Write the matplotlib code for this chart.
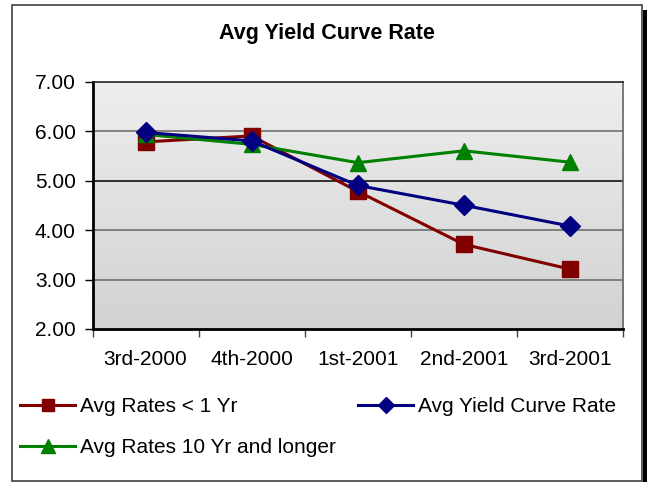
import numpy as np
import matplotlib.pyplot as plt
from matplotlib.patches import Rectangle
from matplotlib.colors import LinearSegmentedColormap

plt.rcParams['font.family'] = ['Liberation Sans', 'DejaVu Sans']

quarters = ['3rd-2000', '4th-2000', '1st-2001', '2nd-2001', '3rd-2001']
rates_short = [5.78, 5.90, 4.78, 3.71, 3.21]
rates_curve = [5.97, 5.80, 4.90, 4.50, 4.08]
rates_long = [5.93, 5.73, 5.36, 5.60, 5.37]

W, H = 647, 482
fig = plt.figure(figsize=(W / 100, H / 100), dpi=100)

# outer frame and its drop shadow
fig.patches.append(Rectangle((12 / W, 1 - 481 / H), 630 / W, 476 / H,
                             transform=fig.transFigure, fill=False,
                             edgecolor='#404040', linewidth=1.2))
fig.patches.append(Rectangle((643 / W, 0), 4 / W, 1 - 10 / H,
                             transform=fig.transFigure, facecolor='black',
                             edgecolor='none'))

ax = fig.add_axes([92.5 / W, 1 - 329 / H, (623 - 92.5) / W, (329 - 81.5) / H])

# grey gradient background of the plot area
bg = LinearSegmentedColormap.from_list('bg', ['#eeeeee', '#d2d2d2'])
grad = np.linspace(0, 1, 256).reshape(-1, 1)
ax.imshow(grad, cmap=bg, aspect='auto', extent=[-0.5, 4.5, 2, 7],
          origin='upper', zorder=0)

x = np.arange(len(quarters))
for yv in [3, 4, 5, 6]:
    ax.axhline(yv, color='#666666' if yv != 5 else 'black', lw=1.1, zorder=1)

l1, = ax.plot(x, rates_short, color='#800000', marker='s', markersize=11,
              lw=2.2, label='Avg Rates < 1 Yr', zorder=3)
l3, = ax.plot(x, rates_long, color='#008000', marker='^', markersize=12,
              lw=2.2, label='Avg Rates 10 Yr and longer', zorder=4)
l2, = ax.plot(x, rates_curve, color='#000080', marker='D', markersize=10,
              lw=2.2, label='Avg Yield Curve Rate', zorder=5)

ax.set_xlim(-0.5, 4.5)
ax.set_ylim(2, 7)
ax.set_yticks([2, 3, 4, 5, 6, 7])
ax.set_yticklabels(['%.2f' % v for v in [2, 3, 4, 5, 6, 7]])
ax.set_xticks(np.arange(-0.5, 5, 1))
ax.set_xticklabels([])
ax.set_xticks(x, minor=True)
ax.set_xticklabels(quarters, minor=True)
ax.tick_params(axis='x', which='minor', length=0, pad=15, labelsize=15)
ax.tick_params(axis='x', which='major', length=6, width=1, color='#444444')
ax.tick_params(axis='y', length=6, width=1, labelsize=15, pad=6)
for side in ['left', 'bottom']:
    ax.spines[side].set_linewidth(2)
    ax.spines[side].set_color('black')
ax.spines['top'].set_linewidth(1.2)
ax.spines['top'].set_color('#222222')
ax.spines['right'].set_linewidth(1.2)
ax.spines['right'].set_color('#666666')

fig.text(327 / W, 1 - 33 / H, 'Avg Yield Curve Rate', ha='center', va='center',
         fontsize=15.5, fontweight='bold')

fig.legend(handles=[l1, l3, l2], loc='upper left', ncol=2,
           bbox_to_anchor=(20 / W, 1 - 397 / H), frameon=False, fontsize=15,
           handlelength=2.65, handletextpad=0.24, columnspacing=1.05,
           labelspacing=1.05, borderaxespad=0, borderpad=0, markerscale=0.8)

fig.savefig('out.png', dpi=100)
